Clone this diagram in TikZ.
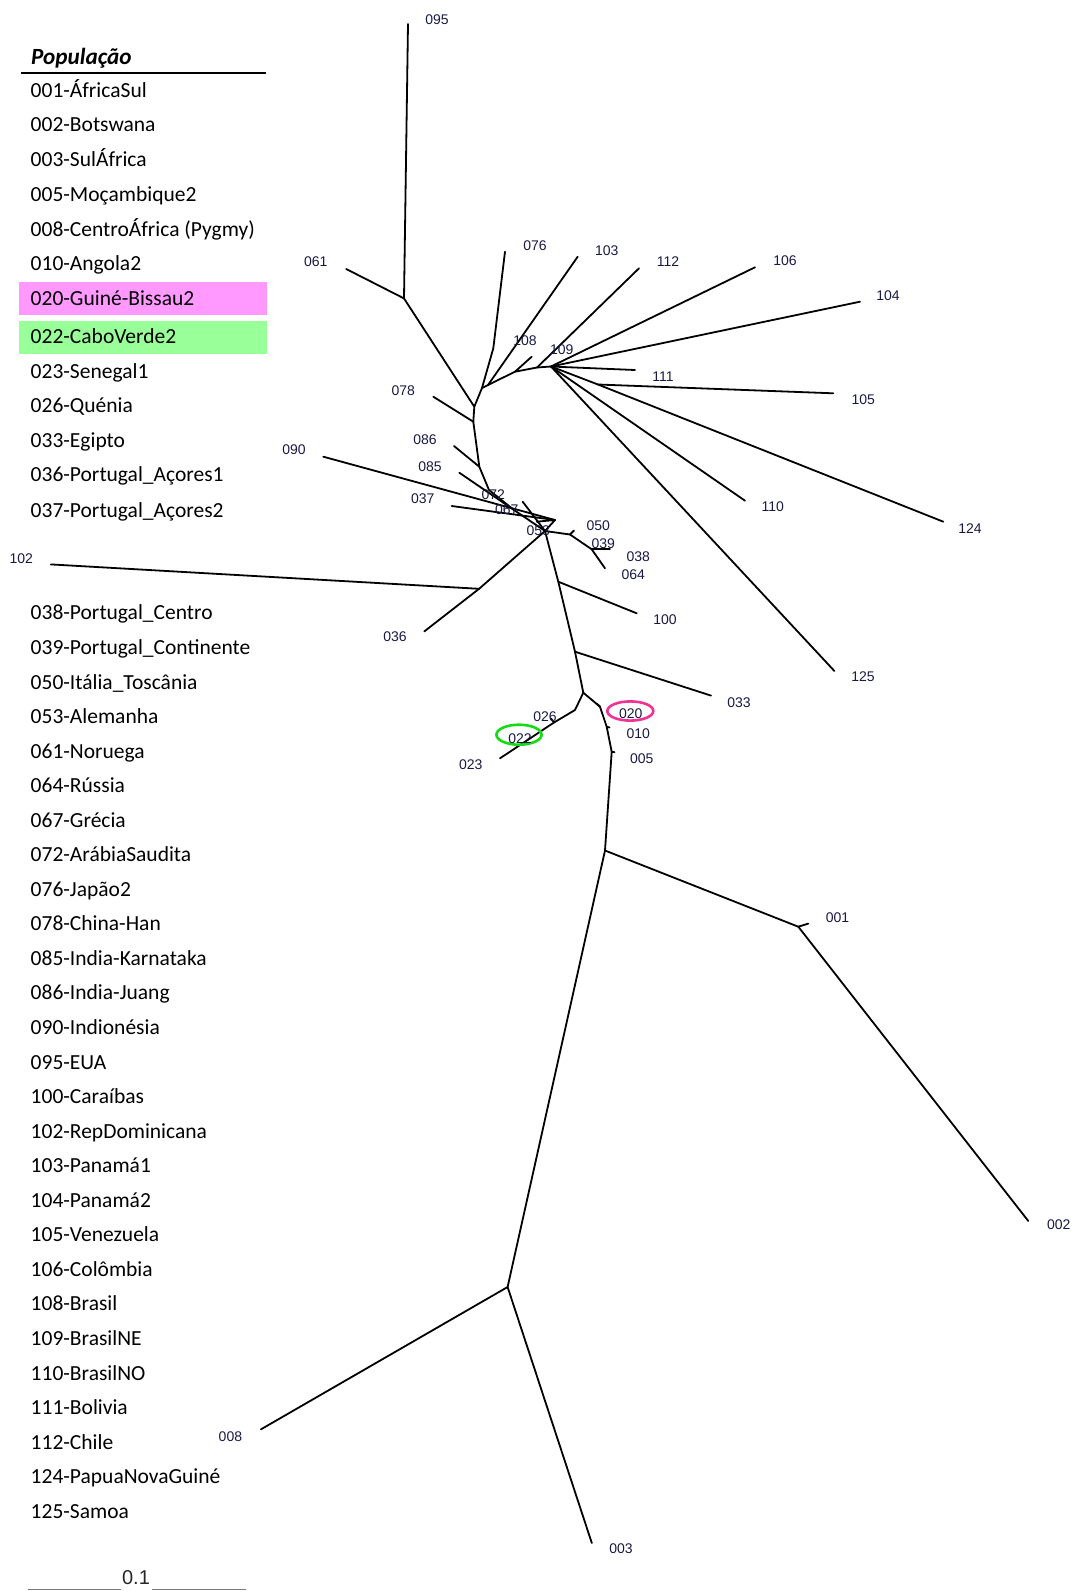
\documentclass[tikz,border=0pt]{standalone}
\usepackage{fontspec}
\setmainfont{Carlito}
\newfontfamily\arialf{Liberation Sans}
\definecolor{lbl}{RGB}{25,25,70}
\definecolor{pinkbg}{RGB}{255,153,255}
\definecolor{greenbg}{RGB}{153,255,153}
\definecolor{ellpink}{RGB}{240,50,150}
\definecolor{ellgreen}{RGB}{20,220,20}
\definecolor{scalegray}{RGB}{120,120,120}
\begin{document}
\begin{tikzpicture}[x=1pt,y=-1pt,
  br/.style={line width=1.8pt, line join=round, line cap=round},
  tl/.style={font=\arialf\fontsize{14}{14}\selectfont, text=lbl, inner sep=0pt},
  lg/.style={font=\fontsize{21.5}{21.5}\selectfont, anchor=base west, inner sep=0pt}]
\useasboundingbox (0,0) rectangle (1074,1591);

% ---------- legend ----------
\fill[pinkbg] (19.3,282) rectangle (266.7,315);
\fill[greenbg] (19.3,320.5) rectangle (266.7,354.3);
\node[font=\bfseries\itshape\fontsize{23.2}{23.2}\selectfont, anchor=base west, inner sep=0pt] (head) at (31,64) {População};
\draw[line width=1.5pt] (21.3,73) -- (266,73);
\foreach \t/\yy [count=\i from 0] in {001-ÁfricaSul/90.3,002-Botswana/124.9,003-SulÁfrica/159.4,005-Moçambique2/194.9,008-CentroÁfrica (Pygmy)/229.4,010-Angola2/263.9,020-Guiné-Bissau2/298.4,022-CaboVerde2/337,023-Senegal1/371.5,026-Quénia/406,033-Egipto/440.6,036-Portugal\_Açores1/475,037-Portugal\_Açores2/510.6}{
  \node[lg] (lga\i) at (30.5,\yy+6.8) {\t};
}
\foreach \t [count=\i from 0] in {038-Portugal\_Centro,039-Portugal\_Continente,050-Itália\_Toscânia,053-Alemanha,061-Noruega,064-Rússia,067-Grécia,072-ArábiaSaudita,076-Japão2,078-China-Han,085-India-Karnataka,086-India-Juang,090-Indionésia,095-EUA,100-Caraíbas,102-RepDominicana,103-Panamá1,104-Panamá2,105-Venezuela,106-Colômbia,108-Brasil,109-BrasilNE,110-BrasilNO,111-Bolivia,112-Chile,124-PapuaNovaGuiné,125-Samoa}{
  \node[lg] (lgb\i) at (30.5,613.1+34.55*\i+6.8) {\t};
}

% ---------- scale bar ----------
\coordinate (sb1) at (28.3,1589.5);
\coordinate (sb2) at (120.7,1589.5);
\coordinate (sb3) at (152.3,1589.5);
\coordinate (sb4) at (245.7,1589.5);
\draw[scalegray, line width=1.5pt] (sb1) -- (sb2) (sb3) -- (sb4);
\node[font=\arialf\fontsize{20}{20}\selectfont, text=black!85, inner sep=0pt] (sbl) at (136,1577.5) {0.1};

% ---------- tree coordinates ----------
\coordinate (t095) at (408,24);
\coordinate (A) at (404,298.4);
\coordinate (t061) at (346.2,269);
\coordinate (J2) at (474.3,406.7);
\coordinate (J1) at (482,388);
\coordinate (k076) at (493.3,348.3);
\coordinate (t076) at (505,251.7);
\coordinate (J1b) at (488,385);
\coordinate (t103) at (577.7,256.7);
\coordinate (J5) at (515,371.7);
\coordinate (t108) at (531.7,356.7);
\coordinate (J6) at (537,367.5);
\coordinate (t112) at (639,268.3);
\coordinate (H) at (551,366.5);
\coordinate (t106) at (755,267.3);
\coordinate (t104) at (860,301.7);
\coordinate (t111) at (635,370);
\coordinate (t110) at (745,500.7);
\coordinate (t125) at (834.4,671);
\coordinate (t124) at (943.3,521.7);
\coordinate (J9) at (598,384.5);
\coordinate (t105) at (833.3,393.3);
\coordinate (J3) at (473.3,421.7);
\coordinate (t078) at (433.3,396.7);
\coordinate (J4) at (479.3,466.7);
\coordinate (t086) at (454,446);
\coordinate (T1) at (489,490);
\coordinate (T2) at (514,510);
\coordinate (t085) at (459.3,472.7);
\coordinate (C) at (545,531);
\coordinate (Z1) at (555,520);
\coordinate (Zc) at (536.7,521.7);
\coordinate (t090) at (323.3,456.7);
\coordinate (t037) at (451.7,506);
\coordinate (tU) at (522.7,501.7);
\coordinate (D) at (570,534.5);
\coordinate (tk050) at (574,530.5);
\coordinate (E) at (591.7,549.3);
\coordinate (t039) at (610,549.3);
\coordinate (t038) at (605,568.3);
\coordinate (K) at (479.1,588.8);
\coordinate (t102) at (50.8,564.4);
\coordinate (t036) at (424.3,631.4);
\coordinate (L) at (558.3,581.7);
\coordinate (t100) at (636.7,613.3);
\coordinate (M) at (575,651.7);
\coordinate (t033) at (711,695.6);
\coordinate (N) at (583.3,692.7);
\coordinate (P) at (575,710);
\coordinate (t023) at (500,758.3);
\coordinate (k026) at (554,722.5);
\coordinate (tk026) at (551,718.5);
\coordinate (R1) at (600,706.7);
\coordinate (tk020) at (597,703.8);
\coordinate (R2) at (606.7,726.7);
\coordinate (tk010) at (609.5,727.5);
\coordinate (R3) at (611.7,751.7);
\coordinate (tk005) at (614.5,752.2);
\coordinate (Q) at (605,850.5);
\coordinate (S) at (798.3,926.7);
\coordinate (tk001) at (808.3,923.6);
\coordinate (t002) at (1028.3,1221);
\coordinate (R) at (507.6,1287);
\coordinate (t008) at (261,1429.3);
\coordinate (t003) at (591.8,1543);

% ---------- branches ----------
\draw[br] (t095) -- (A);
\draw[br] (t061) -- (A);
\draw[br] (A) -- (J2);
\draw[br] (t076) -- (k076) -- (J1);
\draw[br] (t103) -- (J1b);
\draw[br] (J3) -- (J2) -- (J1) -- (J1b) -- (J5) -- (J6) -- (H);
\draw[br] (J5) -- (t108);
\draw[br] (J6) -- (t112);
\draw[br] (H) -- (t106);
\draw[br] (H) -- (t104);
\draw[br] (H) -- (t111);
\draw[br] (H) -- (t110);
\draw[br] (H) -- (t125);
\draw[br] (H) -- (J9) -- (t124);
\draw[br] (J9) -- (t105);
\draw[br] (J3) -- (t078);
\draw[br] (J3) -- (J4) -- (T1) -- (T2) -- (C);
\draw[br] (J4) -- (t086);
\draw[br] (T2) -- (t085);
\draw[br] (t090) -- (Z1);
\draw[br] (t037) -- (Z1);
\draw[br] (Zc) -- (Z1) -- (C);
\draw[br] (tU) -- (C);
\draw[br] (C) -- (D) -- (E) -- (t038);
\draw[br] (D) -- (tk050);
\draw[br] (E) -- (t039);
\draw[br] (C) -- (K);
\draw[br] (K) -- (t102);
\draw[br] (K) -- (t036);
\draw[br] (C) -- (L) -- (M) -- (N);
\draw[br] (L) -- (t100);
\draw[br] (M) -- (t033);
\draw[br] (N) -- (P) -- (k026) -- (t023);
\draw[br] (k026) -- (tk026);
\draw[br] (N) -- (R1) -- (R2) -- (R3) -- (Q);
\draw[br] (R1) -- (tk020);
\draw[br] (R2) -- (tk010);
\draw[br] (R3) -- (tk005);
\draw[br] (Q) -- (S) -- (t002);
\draw[br] (S) -- (tk001);
\draw[br] (Q) -- (R);
\draw[br] (R) -- (t008);
\draw[br] (R) -- (t003);

% ---------- highlight ellipses ----------
\draw[ellpink, line width=2.6pt] (630.3,711) ellipse [x radius=23, y radius=9.6];
\draw[ellgreen, line width=2.6pt] (519,734.7) ellipse [x radius=22.6, y radius=10];

% ---------- tip labels ----------
\node[tl] (l095) at (437,19.3) {095};
\node[tl] (l061) at (315.7,262) {061};
\node[tl] (l076) at (535,246) {076};
\node[tl] (l103) at (606.7,250.7) {103};
\node[tl] (l112) at (668,262) {112};
\node[tl] (l106) at (785,261) {106};
\node[tl] (l104) at (888,295.4) {104};
\node[tl] (l108) at (525,341) {108};
\node[tl] (l109) at (561.7,350) {109};
\node[tl] (l111) at (663,376.7) {111};
\node[tl] (l105) at (863.3,400) {105};
\node[tl] (l078) at (403.3,391) {078};
\node[tl] (l086) at (425,439.3) {086};
\node[tl] (l085) at (430,466.7) {085};
\node[tl] (l090) at (294,449.3) {090};
\node[tl] (l037) at (422.7,498.3) {037};
\node[tl] (l072) at (493.3,495) {072};
\node[tl] (l067) at (506.7,509.3) {067};
\node[tl] (l053) at (538.3,530.7) {053};
\node[tl] (l050) at (598.3,525.7) {050};
\node[tl] (l039) at (603.3,544) {039};
\node[tl] (l038) at (638.3,556.7) {038};
\node[tl] (l064) at (633.3,575) {064};
\node[tl] (l110) at (772.7,506.7) {110};
\node[tl] (l124) at (970,528.3) {124};
\node[tl] (l102) at (21.3,558.3) {102};
\node[tl] (l100) at (665,620) {100};
\node[tl] (l036) at (395,636.5) {036};
\node[tl] (l125) at (863,677) {125};
\node[tl] (l033) at (739,702.5) {033};
\node[tl] (l026) at (545,716.7) {026};
\node[tl] (l020) at (630.7,713.3) {020};
\node[tl] (l022) at (520,738.3) {022};
\node[tl] (l010) at (638.3,733.3) {010};
\node[tl] (l023) at (470.7,765) {023};
\node[tl] (l005) at (641.7,758.3) {005};
\node[tl] (l001) at (837.5,917.7) {001};
\node[tl] (l002) at (1058.8,1225) {002};
\node[tl] (l008) at (230.4,1436.4) {008};
\node[tl] (l003) at (621,1549) {003};
\end{tikzpicture}
\end{document}
